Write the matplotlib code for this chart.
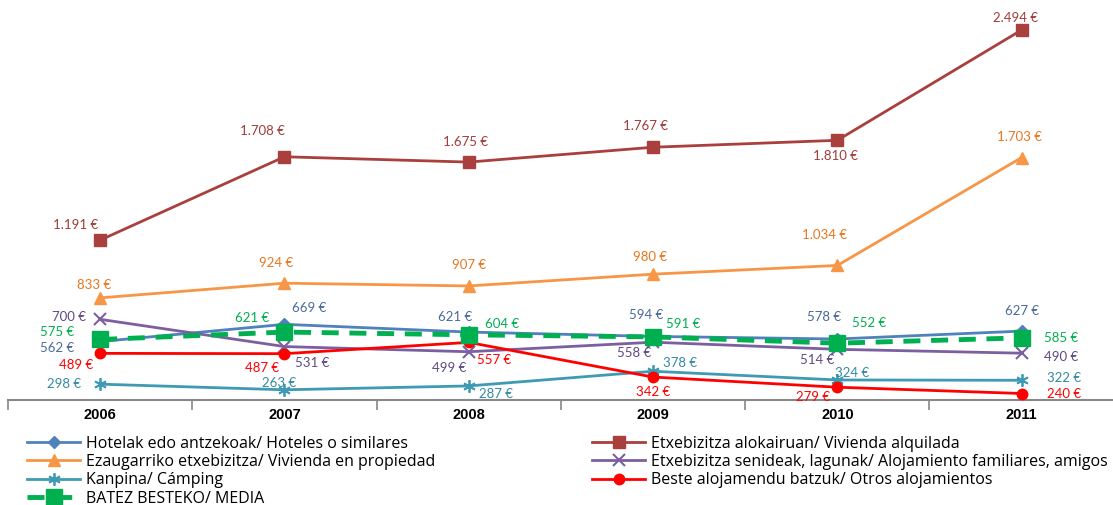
import numpy as np
import matplotlib.pyplot as plt

plt.rcParams['font.family'] = ['Lato', 'DejaVu Sans']

urteak = ['2006', '2007', '2008', '2009', '2010', '2011']

hotelak = [562, 669, 621, 594, 578, 627]
alokairua = [1191, 1708, 1675, 1767, 1810, 2494]
jabetza = [833, 924, 907, 980, 1034, 1703]
senideak = [700, 531, 499, 558, 514, 490]
kanpina = [298, 263, 287, 378, 324, 322]
besteak = [489, 487, 557, 342, 279, 240]
batez_bestekoa = [575, 621, 604, 591, 552, 585]

# etiketen desplazamendua pixeletan (x, y beherantz)
off_hotel = [(-43, 6), (25, -16), (-14, -15), (-7, -21), (-13, -22), (0, -20)]
off_alok = [(-25, -15), (-22, -26), (-3, -20), (-8, -21), (-2, 16), (-6, -12)]
off_jab = [(-6, -13), (-8, -20), (0, -21), (-3, -17), (-13, -30), (-2, -21)]
off_sen = [(-31, -2), (28, 16), (-20, 16), (-19, 11), (-20, 11), (39, 4)]
off_kan = [(-36, 0), (-5, -7), (27, 8), (27, -8), (15, -7), (42, -2)]
off_bes = [(-24, 12), (-22, 14), (25, 18), (0, 15), (-24, 10), (42, 0)]
off_med = [(-43, -7), (-32, -14), (33, -11), (30, -13), (32, -20), (39, 0)]


def euro(v):
    return f"{v:,}".replace(",", ".") + " €"


fig = plt.figure(figsize=(11.13, 5.05), dpi=100)
ax = fig.add_axes([0.0072, 0.208, 0.9935, 0.792])
x = np.arange(len(urteak))

series = [
    ('Hotelak edo antzekoak/ Hoteles o similares', hotelak, '#4F81BD', '#4A6A9C',
     dict(marker='D', ms=6), off_hotel),
    ('Etxebizitza alokairuan/ Vivienda alquilada', alokairua, '#A9403E', '#A03C3A',
     dict(marker='s', ms=8), off_alok),
    ('Ezaugarriko etxebizitza/ Vivienda en propiedad', jabetza, '#F79646', '#E8761E',
     dict(marker='^', ms=8.5), off_jab),
    ('Etxebizitza senideak, lagunak/ Alojamiento familiares, amigos', senideak, '#7B5FA0',
     '#5E4A82', dict(marker='x', ms=8, mew=1.5), off_sen),
    ('Kanpina/ Cámping', kanpina, '#3F9AB3', '#3389A3',
     dict(marker=(6, 2, 0), ms=9, mew=1.3), off_kan),
    ('Beste alojamendu batzuk/ Otros alojamientos', besteak, '#FF0000', '#FF0000',
     dict(marker='o', ms=7.5), off_bes),
]

handles = {}
for izena, balioak, kolorea, lkolorea, mk, offs in series:
    h, = ax.plot(x, balioak, color=kolorea, lw=2, label=izena, zorder=3, **mk)
    handles[izena] = h
    for xi, v, (dx, dy) in zip(x, balioak, offs):
        ax.annotate(euro(v), (xi, v), xytext=(dx, -dy), textcoords='offset pixels',
                    ha='center', va='center', fontsize=9.5, color=lkolorea, zorder=5)

med_izena = 'BATEZ BESTEKO/ MEDIA'
h, = ax.plot(x, batez_bestekoa, color='#00B050', lw=3.5, ls=(0, (3.5, 2.2)),
             marker='s', ms=11, label=med_izena, zorder=4)
handles[med_izena] = h
for xi, v, (dx, dy) in zip(x, batez_bestekoa, off_med):
    ax.annotate(euro(v), (xi, v), xytext=(dx, -dy), textcoords='offset pixels',
                ha='center', va='center', fontsize=9.5, color='#00B050', zorder=5)

ax.set_xlim(-0.5, 5.5)
ax.set_ylim(200, 2680)
ax.set_yticks([])
for s in ['top', 'right', 'left']:
    ax.spines[s].set_visible(False)
ax.spines['bottom'].set_color('#888888')
ax.spines['bottom'].set_linewidth(1.5)

ax.set_xticks(x)
ax.set_xticklabels(urteak, fontsize=10.5, fontweight='bold', family='Liberation Sans')
ax.tick_params(axis='x', length=0, pad=6)
ax.set_xticks(np.arange(-0.5, 6, 1), minor=True)
ax.tick_params(axis='x', which='minor', length=7, width=1.2, color='#888888', direction='out')

ezkerra = ['Hotelak edo antzekoak/ Hoteles o similares',
           'Ezaugarriko etxebizitza/ Vivienda en propiedad',
           'Kanpina/ Cámping',
           med_izena]
eskuina = ['Etxebizitza alokairuan/ Vivienda alquilada',
           'Etxebizitza senideak, lagunak/ Alojamiento familiares, amigos',
           'Beste alojamendu batzuk/ Otros alojamientos']
leg_aukerak = dict(loc='upper left', frameon=False, handlelength=3.35, handletextpad=0.35,
                   labelspacing=0.15, borderaxespad=0,
                   prop={'family': 'Open Sans', 'size': 11.5})
fig.legend([handles[k] for k in ezkerra], ezkerra, bbox_to_anchor=(0.0185, 0.15), **leg_aukerak)
fig.legend([handles[k] for k in eskuina], eskuina, bbox_to_anchor=(0.526, 0.15), **leg_aukerak)

fig.savefig('out.png', dpi=100)
